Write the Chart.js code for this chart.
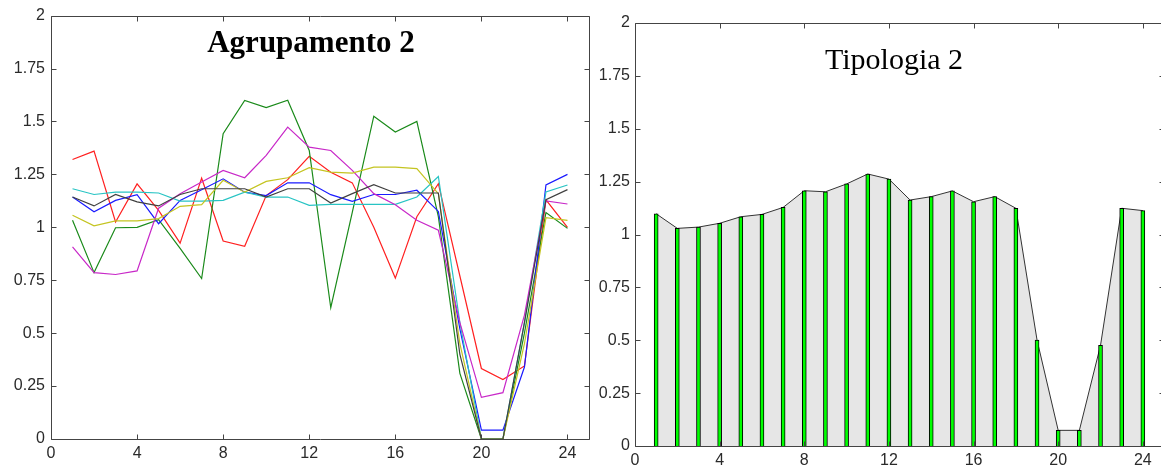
<!DOCTYPE html>
<html>
<head>
<meta charset="utf-8">
<script src="https://cdn.jsdelivr.net/npm/chart.js@4.4.1/dist/chart.umd.min.js"></script>
<style>
  html, body { margin: 0; padding: 0; background: #fff; }
  body { width: 1161px; height: 473px; overflow: hidden; position: relative; }
  canvas { position: absolute; top: 0; }
  #c1 { left: 0; }
  #c2 { left: 580px; }
  .title { position: absolute; font-family: "Liberation Serif", "Times New Roman", serif; color: #000;
           line-height: 1; white-space: nowrap; transform: translateX(-50%); }
  #t1 { left: 311px; top: 26px; font-size: 31px; font-weight: bold; }
  #t2 { left: 894px; top: 44px; font-size: 30px; font-weight: normal; }
</style>
</head>
<body>
<canvas id="c1" width="600" height="473"></canvas>
<canvas id="c2" width="600" height="473"></canvas>
<div class="title" id="t1">Agrupamento 2</div>
<div class="title" id="t2">Tipologia 2</div>
<script>
// ---- data ----
const hours = [1,2,3,4,5,6,7,8,9,10,11,12,13,14,15,16,17,18,19,20,21,22,23,24];
const xTicks = [0,4,8,12,16,20,24];
const yTicks = [0,0.25,0.5,0.75,1,1.25,1.5,1.75,2];
const yTickLabels = ['0','0.25','0.5','0.75','1','1.25','1.5','1.75','2'];

const seriesRed     = [1.32,1.36,1.025,1.205,1.08,0.925,1.232,0.935,0.91,1.15,1.225,1.335,1.26,1.21,1.0,0.76,1.05,1.206,0.77,0.333,0.281,0.345,1.13,1.0];
const seriesGreen   = [1.033,0.786,0.998,1.0,1.036,0.9,0.758,1.442,1.599,1.565,1.6,1.363,0.62,1.07,1.525,1.45,1.5,1.05,0.31,0,0,0.5,1.07,0.995];
const seriesBlue    = [1.143,1.073,1.127,1.154,1.017,1.127,1.177,1.229,1.166,1.15,1.21,1.21,1.154,1.123,1.155,1.155,1.175,1.075,0.52,0.042,0.042,0.34,1.2,1.25];
const seriesCyan    = [1.182,1.155,1.166,1.166,1.162,1.124,1.124,1.127,1.166,1.143,1.143,1.104,1.108,1.108,1.108,1.108,1.143,1.24,0.55,0,0,0.55,1.167,1.2];
const seriesMagenta = [0.907,0.786,0.777,0.794,1.09,1.159,1.214,1.269,1.234,1.34,1.473,1.379,1.363,1.269,1.159,1.107,1.033,0.986,0.55,0.197,0.219,0.585,1.125,1.11];
const seriesYellow  = [1.057,1.007,1.03,1.03,1.041,1.099,1.107,1.222,1.166,1.217,1.234,1.282,1.261,1.256,1.284,1.284,1.277,1.159,0.45,0,0,0.45,1.046,1.033];
const seriesGray    = [1.143,1.101,1.155,1.12,1.101,1.155,1.182,1.182,1.182,1.143,1.182,1.182,1.115,1.159,1.201,1.162,1.162,1.162,0.4,0,0,0.55,1.13,1.178];

const tipologia = [1.098,1.029,1.035,1.053,1.084,1.095,1.128,1.207,1.202,1.239,1.286,1.262,1.163,1.179,1.206,1.155,1.179,1.124,0.501,0.074,0.074,0.476,1.124,1.113];

// ---- helpers ----
const pts = arr => hours.map((h, i) => ({ x: h, y: arr[i] }));
const tickFont = { family: '"Liberation Sans", Arial, sans-serif', size: 16 };
const tickColor = '#2a2a2a';

const boxPlugin = {
  id: 'box',
  afterDraw(chart) {
    const { ctx, chartArea: a, scales: { x, y } } = chart;
    const L = Math.round(a.left) + 0.5, R = Math.round(a.right) + 0.5;
    const T = Math.round(a.top) + 0.5, B = Math.round(a.bottom) + 0.5;
    const len = 5;
    ctx.save();
    ctx.strokeStyle = '#444';
    ctx.lineWidth = 1;
    ctx.beginPath();
    ctx.rect(L, T, R - L, B - T);
    xTicks.forEach(v => {
      const px = Math.round(x.getPixelForValue(v)) + 0.5;
      ctx.moveTo(px, B); ctx.lineTo(px, B - len);
      ctx.moveTo(px, T); ctx.lineTo(px, T + len);
    });
    yTicks.forEach(v => {
      const py = Math.round(y.getPixelForValue(v)) + 0.5;
      ctx.moveTo(L, py); ctx.lineTo(L + len, py);
      ctx.moveTo(R, py); ctx.lineTo(R - len, py);
    });
    ctx.stroke();
    ctx.restore();
  }
};

function makeScales(yWidth, xHeight, xPad, yPad) {
  return {
    x: {
      type: 'linear', min: 0, max: 25, offset: false,
      afterBuildTicks: s => { s.ticks = xTicks.map(v => ({ value: v })); },
      afterFit: s => { s.height = xHeight; },
      grid: { display: false, drawTicks: false },
      border: { display: false },
      ticks: { font: tickFont, color: tickColor, padding: xPad, maxRotation: 0, autoSkip: false,
               callback: v => String(v) }
    },
    y: {
      type: 'linear', min: 0, max: 2,
      afterBuildTicks: s => { s.ticks = yTicks.map(v => ({ value: v })); },
      afterFit: s => { s.width = yWidth; },
      grid: { display: false, drawTicks: false },
      border: { display: false },
      ticks: { font: tickFont, color: tickColor, padding: yPad, autoSkip: false,
               callback: v => yTickLabels[yTicks.indexOf(v)] }
    }
  };
}

const lineDs = (data, color) => ({
  data: pts(data), borderColor: color, backgroundColor: color, borderWidth: 1.2,
  pointRadius: 0, tension: 0, fill: false
});

// ---- left chart ----
new Chart(document.getElementById('c1'), {
  type: 'line',
  data: {
    datasets: [
      lineDs(seriesGray, '#404040'),
      lineDs(seriesYellow, '#c4c420'),
      lineDs(seriesMagenta, '#c828c8'),
      lineDs(seriesCyan, '#28c4c4'),
      lineDs(seriesBlue, '#1a1aff'),
      lineDs(seriesGreen, '#1a8a1a'),
      lineDs(seriesRed, '#ff2020')
    ]
  },
  options: {
    responsive: false, animation: false, devicePixelRatio: 1,
    layout: { padding: { top: 15, right: 11, left: 0, bottom: 0 } },
    plugins: { legend: { display: false }, tooltip: { enabled: false } },
    scales: makeScales(51, 34, 5, 6)
  },
  plugins: [boxPlugin]
});

// ---- right chart ----
new Chart(document.getElementById('c2'), {
  type: 'bar',
  data: {
    datasets: [
      {
        type: 'bar', data: pts(tipologia), order: 0,
        backgroundColor: '#00ff00', borderColor: '#000', borderWidth: 1,
        barThickness: 4, borderSkipped: 'start'
      },
      {
        type: 'line', data: pts(tipologia), order: 1,
        borderColor: '#333', borderWidth: 1, backgroundColor: '#e6e6e6',
        fill: 'origin', pointRadius: 0, tension: 0
      }
    ]
  },
  options: {
    responsive: false, animation: false, devicePixelRatio: 1,
    layout: { padding: { top: 23, right: 16, left: 0, bottom: 0 } },
    plugins: { legend: { display: false }, tooltip: { enabled: false } },
    scales: makeScales(55, 27, 5, 5)
  },
  plugins: [boxPlugin]
});
</script>
</body>
</html>
